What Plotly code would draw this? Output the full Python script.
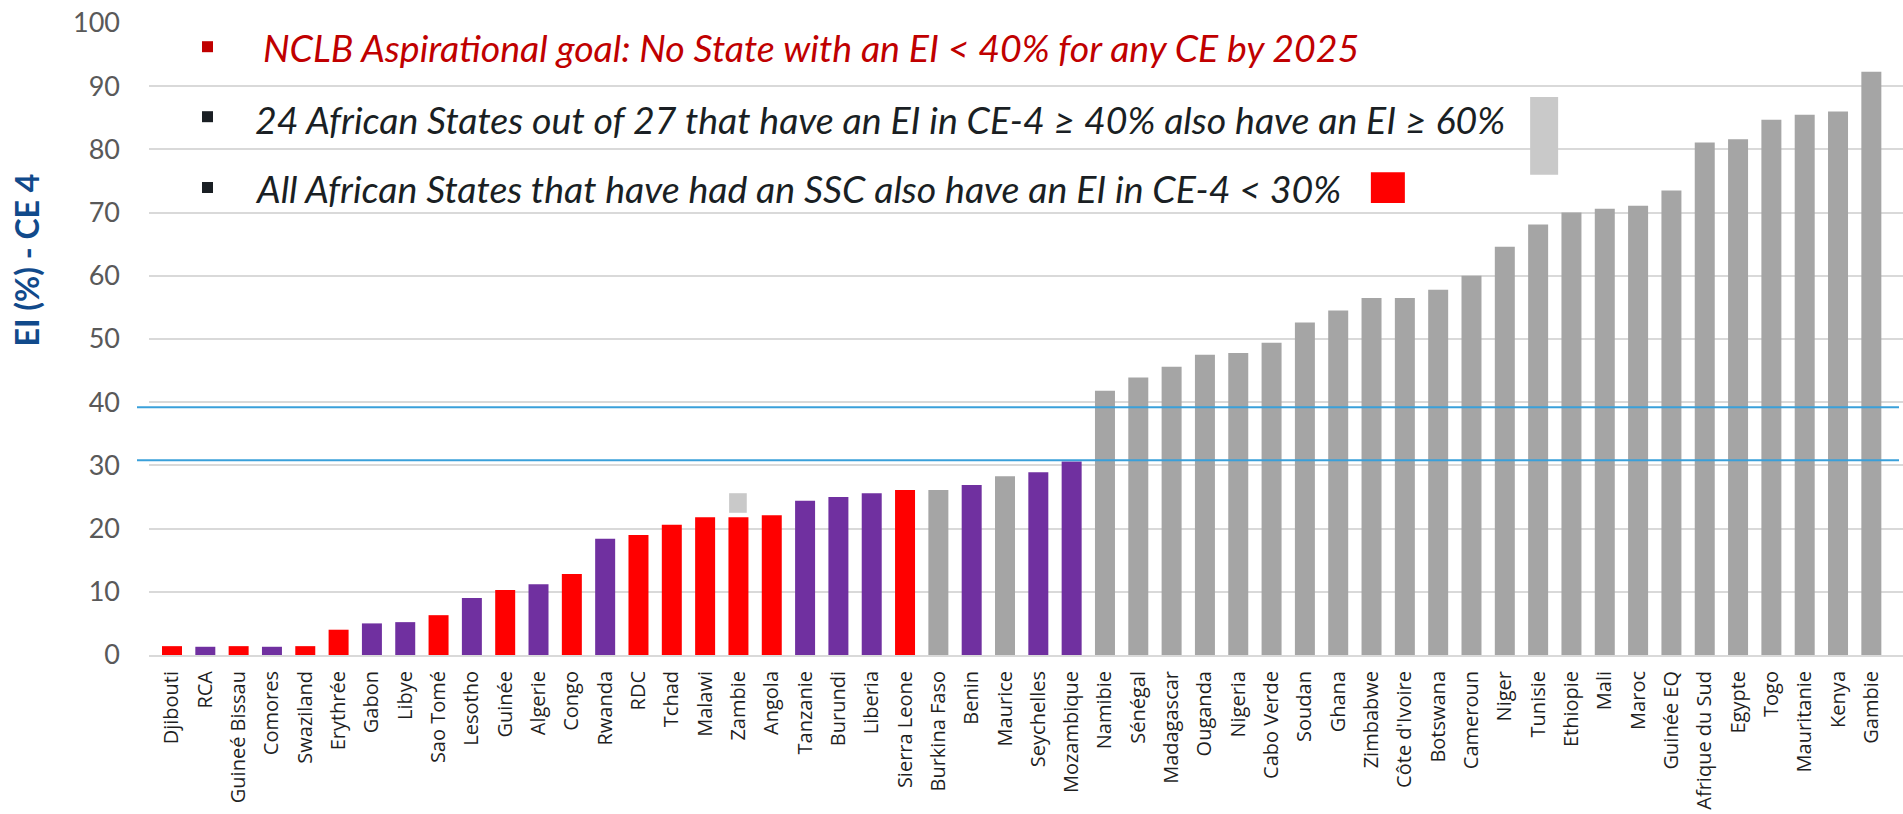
import plotly.graph_objects as go

# ---------------- data ----------------
countries = ["Djibouti", "RCA", "Guineé Bissau", "Comores", "Swaziland", "Erythrée", "Gabon",
             "Libye", "Sao Tomé", "Lesotho", "Guinée", "Algerie", "Congo", "Rwanda", "RDC",
             "Tchad", "Malawi", "Zambie", "Angola", "Tanzanie", "Burundi", "Liberia",
             "Sierra Leone", "Burkina Faso", "Benin", "Maurice", "Seychelles", "Mozambique",
             "Namibie", "Sénégal", "Madagascar", "Ouganda", "Nigeria", "Cabo Verde", "Soudan",
             "Ghana", "Zimbabwe", "Côte d'Ivoire", "Botswana", "Cameroun", "Niger", "Tunisie",
             "Ethiopie", "Mali", "Maroc", "Guinée EQ", "Afrique du Sud", "Egypte", "Togo",
             "Mauritanie", "Kenya", "Gambie"]

ei_ce4 = [1.4, 1.3, 1.4, 1.3, 1.4, 4.0, 5.0,
          5.2, 6.3, 9.0, 10.3, 11.2, 12.8, 18.4, 19.0,
          20.6, 21.8, 21.8, 22.1, 24.4, 25.0, 25.6,
          26.1, 26.1, 26.9, 28.3, 28.9, 30.6,
          41.8, 43.9, 45.6, 47.5, 47.8, 49.4, 52.6,
          54.5, 56.5, 56.5, 57.8, 60.0, 64.6, 68.1,
          70.0, 70.6, 71.1, 73.5, 81.1, 81.6, 84.7,
          85.5, 86.0, 92.3]

# SSC = red, LOW = purple, OTHER = grey
group = ["SSC", "LOW", "SSC", "LOW", "SSC", "SSC", "LOW",
         "LOW", "SSC", "LOW", "SSC", "LOW", "SSC", "LOW", "SSC",
         "SSC", "SSC", "SSC", "SSC", "LOW", "LOW", "LOW",
         "SSC", "OTHER", "LOW", "OTHER", "LOW", "LOW"] + ["OTHER"] * 24

reference_lines = [39.2, 30.8]
y_ticks = list(range(0, 101, 10))

legend_lines = [
    "NCLB Aspirational goal: No State with an EI < 40% for any CE by 2025",
    "24 African States out of 27 that have an EI in CE-4 ≥ 40% also have an EI ≥ 60%",
    "All African States that have had an SSC also have an EI in CE-4 < 30%",
]
y_title = "EI (%) - CE 4"

# ---------------- styling / layout ----------------
palette = {"SSC": "#FF0000", "LOW": "#7030A0", "OTHER": "#A5A5A5"}
W, H = 1903, 814
L, R, T, B = 149, 0, 23, 159
PW, PH = W - L - R, H - T - B


def px(x):
    return (x - L) / PW


def py(y):
    return (H - B - y) / PH


fig = go.Figure()
fig.add_trace(go.Bar(
    x=list(range(len(countries))),
    y=ei_ce4,
    marker=dict(color=[palette[g] for g in group], line=dict(width=0)),
    hoverinfo="x+y",
))

shapes = []
for v in reference_lines:
    shapes.append(dict(type="line", xref="paper", yref="y", x0=px(137), x1=px(1899), y0=v, y1=v,
                       line=dict(color="#3AA0DA", width=2), layer="above"))

# decorative markers
shapes.append(dict(type="rect", xref="x", yref="y", x0=16.72, x1=17.25, y0=22.5, y1=25.6,
                   fillcolor="#C9C9C9", line=dict(width=0)))
shapes.append(dict(type="rect", xref="x", yref="y", x0=40.76, x1=41.6, y0=76.0, y1=88.3,
                   fillcolor="#C9C9C9", line=dict(width=0)))
shapes.append(dict(type="rect", xref="x", yref="y", x0=35.98, x1=37.0, y0=71.5, y1=76.4,
                   fillcolor="#FF0000", line=dict(width=0)))

# bullets
bullet_y = [46.7, 116.7, 187.5]
bullet_c = ["#C00000", "#1A1F24", "#1A1F24"]
for by, bc in zip(bullet_y, bullet_c):
    shapes.append(dict(type="rect", xref="paper", yref="paper", x0=px(202), x1=px(213),
                       y0=py(by + 5.5), y1=py(by - 5.5), fillcolor=bc, line=dict(width=0)))

annotations = []
text_x = [261, 253, 253]
text_y = [48, 119, 189]
text_c = ["#C00000", "#1A1F24", "#1A1F24"]
for t, tx, ty, tc in zip(legend_lines, text_x, text_y, text_c):
    annotations.append(dict(xref="paper", yref="paper", x=px(tx), y=py(ty), xanchor="left",
                            yanchor="middle", text="<i>" + t + "</i>", showarrow=False,
                            font=dict(family="Lato", size=37.5, color=tc)))

annotations.append(dict(xref="paper", yref="paper", x=px(26), y=py(260.5), xanchor="center",
                        yanchor="middle", text="<b>" + y_title + "</b>", textangle=-90,
                        showarrow=False, font=dict(family="Lato", size=32, color="#114A8B")))

fig.update_layout(
    width=W, height=H,
    margin=dict(l=L, r=R, t=T, b=B, pad=0, autoexpand=False),
    paper_bgcolor="white", plot_bgcolor="white",
    bargap=0.4,
    showlegend=False,
    shapes=shapes,
    annotations=annotations,
    xaxis=dict(
        range=[-0.69, len(countries) - 1 + 0.95], automargin=False,
        tickmode="array", tickvals=list(range(len(countries))), ticktext=countries,
        tickangle=-90, showgrid=False, zeroline=False,
        showline=True, linecolor="#D9D9D9", linewidth=2,
        ticks="", ticklabelstandoff=6,
        tickfont=dict(family="Open Sans", size=20, color="#1F1F1F"),
    ),
    yaxis=dict(
        range=[0, 100], tickmode="array", tickvals=y_ticks, automargin=False,
        showgrid=True, gridcolor="#D9D9D9", gridwidth=2, zeroline=False,
        ticks="", ticklabelstandoff=28,
        tickfont=dict(family="Lato", size=27, color="#595959"),
    ),
)

fig.write_html("out.html", config={"displayModeBar": False},
               post_script="document.body.style.margin='0';document.body.style.overflow='hidden';")
